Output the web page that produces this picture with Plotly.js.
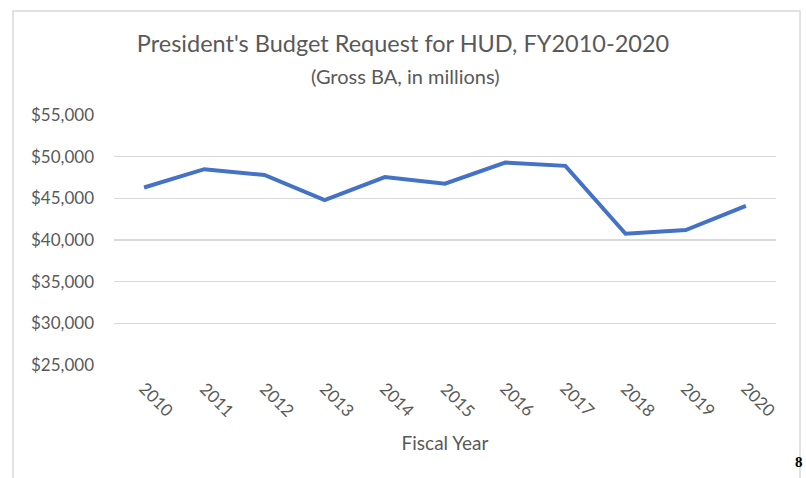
<!DOCTYPE html>
<html>
<head>
<meta charset="utf-8">
<script src="https://cdn.plot.ly/plotly-3.0.1.min.js"></script>
<style>
html,body{margin:0;padding:0;background:#fff;}
#chart{width:806px;height:478px;}
</style>
</head>
<body>
<div id="chart"></div>
<script>
const years = ['2010','2011','2012','2013','2014','2015','2016','2017','2018','2019','2020'];
const budgetRequest = [46300, 48500, 47800, 44800, 47550, 46750, 49300, 48900, 40750, 41200, 44100];
const yTicks = [25000, 30000, 35000, 40000, 45000, 50000, 55000];
const chartTitle = "President's Budget Request for HUD, FY2010-2020";
const chartSubtitle = "(Gross BA, in millions)";
const xTitle = 'Fiscal Year';

const FONT = 'Lato, "Open Sans", sans-serif';
const GRAY = '#595959';

const trace = {
  type: 'scatter',
  mode: 'lines',
  x: years,
  y: budgetRequest,
  line: {color: '#4472C4', width: 4},
  hoverinfo: 'x+y'
};

// rotated year labels, placed at each category's index on the category axis
const yearLabels = years.map((yr, i) => ({
  text: yr, x: i, xref: 'x', xshift: 13,
  y: (365 - 399) / 250, yref: 'paper',
  xanchor: 'center', yanchor: 'middle',
  textangle: 45, showarrow: false,
  font: {family: FONT, size: 17, color: GRAY}
}));

const layout = {
  width: 806,
  height: 478,
  margin: {l: 114, r: 30, t: 115, b: 113},
  paper_bgcolor: '#ffffff',
  plot_bgcolor: '#ffffff',
  showlegend: false,
  font: {family: FONT, color: GRAY, size: 17},
  title: {
    text: chartTitle,
    x: 0.5, xref: 'container', xanchor: 'center',
    y: 1 - 44 / 478, yref: 'container', yanchor: 'middle',
    font: {family: FONT, size: 23.5, color: GRAY}
  },
  xaxis: {
    type: 'category',
    categoryorder: 'array',
    categoryarray: years,
    range: [-0.5, years.length - 0.5],
    autorange: false,
    showgrid: false,
    zeroline: false,
    showline: false,
    ticks: '',
    showticklabels: false,
    title: {text: xTitle, font: {family: FONT, size: 19, color: GRAY}, standoff: 71},
    automargin: false,
    fixedrange: true
  },
  yaxis: {
    range: [25000, 55000],
    autorange: false,
    tickvals: yTicks,
    tickformat: '$,d',
    showgrid: true,
    gridcolor: '#d9d9d9',
    gridwidth: 1.5,
    zeroline: false,
    showline: false,
    ticks: '',
    ticklabelstandoff: 19,
    tickfont: {family: FONT, size: 17, color: GRAY},
    automargin: false,
    fixedrange: true
  },
  shapes: [{
    type: 'rect', xref: 'paper', yref: 'paper',
    x0: (13 - 114) / 662, x1: (800 - 114) / 662,
    y0: -0.6, y1: (365 - 11) / 250,
    line: {color: '#d9d9d9', width: 1.5},
    fillcolor: 'rgba(0,0,0,0)',
    layer: 'below'
  }],
  annotations: yearLabels.concat([
    {
      text: chartSubtitle, xref: 'paper', yref: 'paper',
      x: (405 - 114) / 662, y: (365 - 76) / 250,
      xanchor: 'center', yanchor: 'middle', showarrow: false,
      font: {family: FONT, size: 20, color: GRAY}
    },
    {
      text: '<b>8</b>', xref: 'paper', yref: 'paper',
      x: (805 - 114) / 662, y: (365 - 462) / 250,
      xanchor: 'right', yanchor: 'middle', showarrow: false,
      font: {family: '"Liberation Serif", serif', size: 15, color: '#000000'}
    }
  ])
};

Plotly.newPlot('chart', [trace], layout, {displayModeBar: false, staticPlot: true});
</script>
</body>
</html>
